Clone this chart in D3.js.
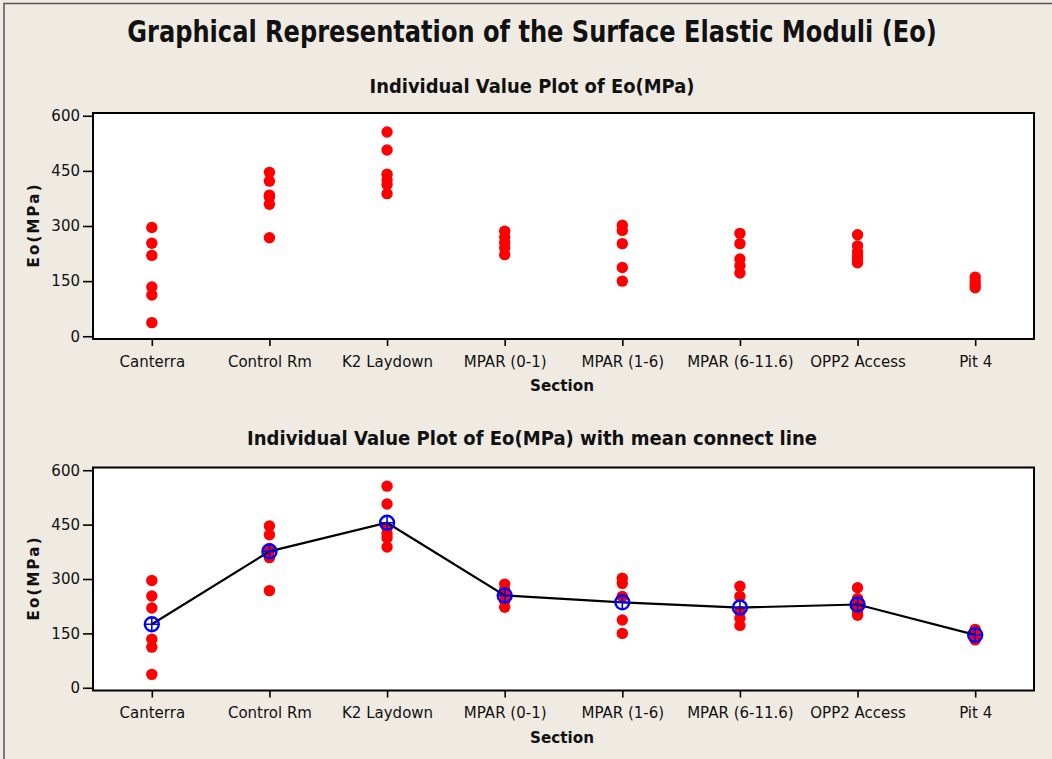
<!DOCTYPE html>
<html>
<head>
<meta charset="utf-8">
<script src="https://cdn.jsdelivr.net/npm/d3@7"></script>
<style>
  body { margin: 0; background: #f0ebe2; }
  svg { display: block; }
  text { font-family: "DejaVu Sans", Verdana, sans-serif; fill: #111; }
  .tick line { stroke: #000; stroke-width: 1.6; }
  .tick text { font-size: 15px; }
  .bold { font-weight: bold; }
</style>
</head>
<body>
<svg id="chart"></svg>
<script>
var sections = ["Canterra", "Control Rm", "K2 Laydown", "MPAR (0-1)", "MPAR (1-6)", "MPAR (6-11.6)", "OPP2 Access", "Pit 4"];

// Eo(MPa) readings per section
var eoCanterra = [296, 253, 220, 134, 112, 37];
var eoControlRm = [446, 422, 384, 378, 359, 268];
var eoK2Laydown = [556, 507, 441, 425, 413, 388];
var eoMpar01 = [286, 270, 255, 240, 222];
var eoMpar16 = [302, 288, 252, 187, 150];
var eoMpar6116 = [280, 252, 210, 192, 172];
var eoOpp2Access = [276, 246, 230, 218, 208, 200];
var eoPit4 = [161, 150, 140, 132];

var eoValues = [eoCanterra, eoControlRm, eoK2Laydown, eoMpar01, eoMpar16, eoMpar6116, eoOpp2Access, eoPit4];
var yTicks = [0, 150, 300, 450, 600];

var width = 1052;
var height = 759;

var points = [];
sections.forEach(function(s, i){
  eoValues[i].forEach(function(v){ points.push({section: s, value: v}); });
});
var means = sections.map(function(s, i){ return {section: s, value: d3.mean(eoValues[i])}; });

var svg = d3.select("#chart")
  .attr("width", width)
  .attr("height", height);

svg.append("rect")
  .attr("width", width).attr("height", height)
  .attr("fill", "#f0ebe2");

// outer frame
svg.append("rect")
  .attr("x", 4).attr("y", 3.5)
  .attr("width", width + 20).attr("height", height + 20)
  .attr("fill", "none")
  .attr("stroke", "#555")
  .attr("stroke-width", 1.5);

// main title, squeezed sideways like the original condensed face
var title = svg.append("text")
  .attr("class", "bold")
  .attr("text-anchor", "middle")
  .attr("font-size", 30)
  .text("Graphical Representation of the Surface Elastic Moduli (Eo)");
var tw = title.node().getComputedTextLength();
title.attr("transform", "translate(532,42) scale(" + (810 / tw) + ",1)");

var plotLeft = 93, plotRight = 1034;

var xscale = d3.scalePoint()
  .domain(sections)
  .range([plotLeft, plotRight])
  .padding(0.5);

function panel(cfg){
  var g = svg.append("g");

  var yscale = d3.scaleLinear()
    .domain([-7.5, 607.5])
    .range([cfg.bottom, cfg.top]);

  g.append("text")
    .attr("class", "bold")
    .attr("x", 532).attr("y", cfg.titleY)
    .attr("text-anchor", "middle")
    .attr("font-size", 19)
    .attr("textLength", cfg.titleLen)
    .attr("lengthAdjust", "spacingAndGlyphs")
    .text(cfg.title);

  g.append("rect")
    .attr("x", plotLeft).attr("y", cfg.top)
    .attr("width", plotRight - plotLeft)
    .attr("height", cfg.bottom - cfg.top)
    .attr("fill", "#fff");

  //Y axis
  var yaxis = g.append("g")
    .attr("transform", "translate(" + plotLeft + ",0)")
    .call(d3.axisLeft(yscale).tickValues(yTicks).tickSize(10).tickPadding(3));
  yaxis.select(".domain").remove();

  //X axis
  var xaxis = g.append("g")
    .attr("transform", "translate(0," + cfg.bottom + ")")
    .call(d3.axisBottom(xscale).tickSize(7).tickPadding(10));
  xaxis.select(".domain").remove();

  g.append("text")
    .attr("class", "bold")
    .attr("transform", "translate(39," + ((cfg.top + cfg.bottom) / 2) + ") rotate(-90)")
    .attr("text-anchor", "middle")
    .attr("font-size", 15)
    .attr("textLength", 83)
    .attr("lengthAdjust", "spacing")
    .text("Eo(MPa)");

  g.append("text")
    .attr("class", "bold")
    .attr("x", 562).attr("y", cfg.bottom + 52)
    .attr("text-anchor", "middle")
    .attr("font-size", 15)
    .attr("textLength", 64)
    .attr("lengthAdjust", "spacingAndGlyphs")
    .text("Section");

  //Data points
  g.selectAll("circle.dot")
    .data(points)
    .enter()
    .append("circle")
    .attr("class", "dot")
    .attr("cx", function(d){ return xscale(d.section); })
    .attr("cy", function(d){ return yscale(d.value); })
    .attr("r", 5.7)
    .attr("fill", "#ff0000");

  if(cfg.showMean){
    var line = d3.line()
      .x(function(d){ return xscale(d.section); })
      .y(function(d){ return yscale(d.value); });

    g.append("path")
      .datum(means)
      .attr("d", line)
      .attr("fill", "none")
      .attr("stroke", "#000")
      .attr("stroke-width", 2.2);

    var m = g.selectAll("g.mean")
      .data(means)
      .enter()
      .append("g")
      .attr("class", "mean")
      .attr("transform", function(d){ return "translate(" + xscale(d.section) + "," + yscale(d.value) + ")"; });
    m.append("circle")
      .attr("r", 7)
      .attr("fill", "none")
      .attr("stroke", "#0000ff")
      .attr("stroke-width", 2.4);
    m.append("path")
      .attr("d", "M-7,0H7M0,-7V7")
      .attr("stroke", "#0000ff")
      .attr("stroke-width", 1.6);
  }

  // plot frame
  g.append("rect")
    .attr("x", plotLeft).attr("y", cfg.top)
    .attr("width", plotRight - plotLeft)
    .attr("height", cfg.bottom - cfg.top)
    .attr("fill", "none")
    .attr("stroke", "#000")
    .attr("stroke-width", 2);
}

panel({
  title: "Individual Value Plot of Eo(MPa)",
  titleY: 93, titleLen: 325,
  top: 113, bottom: 339,
  showMean: false
});

panel({
  title: "Individual Value Plot of Eo(MPa) with mean connect line",
  titleY: 445, titleLen: 570,
  top: 467.5, bottom: 690.5,
  showMean: true
});
</script>
</body>
</html>
